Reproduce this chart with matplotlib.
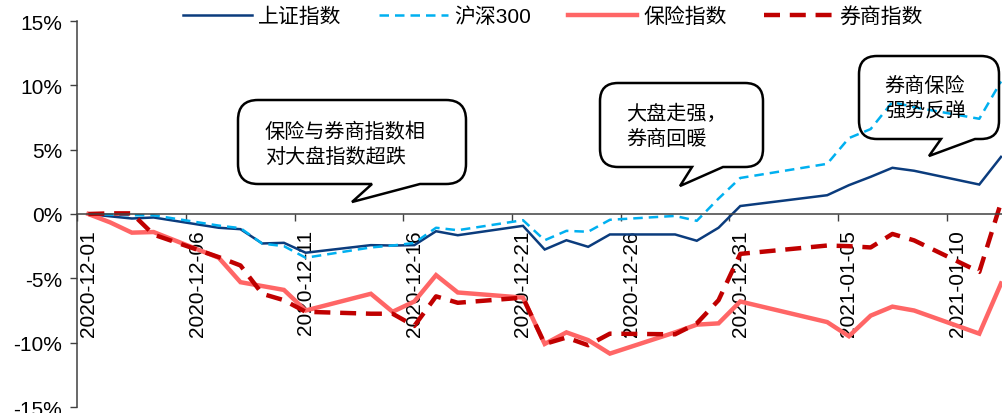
import numpy as np
import pandas as pd
import matplotlib
matplotlib.use('Agg')
import matplotlib.pyplot as plt
from matplotlib.path import Path
from matplotlib.patches import PathPatch
from matplotlib.ticker import FixedLocator, NullFormatter, FixedFormatter, FuncFormatter

plt.rcParams['font.family'] = ['Liberation Sans', 'Noto Sans CJK SC']
plt.rcParams['axes.unicode_minus'] = False

# trading days and cumulative return (%) of each index since 2020-12-01
dates = ['2020-12-01', '2020-12-02', '2020-12-03', '2020-12-04', '2020-12-07',
         '2020-12-08', '2020-12-09', '2020-12-10', '2020-12-11', '2020-12-14',
         '2020-12-15', '2020-12-16', '2020-12-17', '2020-12-18', '2020-12-21',
         '2020-12-22', '2020-12-23', '2020-12-24', '2020-12-25', '2020-12-28',
         '2020-12-29', '2020-12-30', '2020-12-31', '2021-01-04', '2021-01-05',
         '2021-01-06', '2021-01-07', '2021-01-08', '2021-01-11', '2021-01-12']

sh_index = [0, -0.18, -0.35, -0.27, -1.07, -1.18, -2.29, -2.24, -3.01, -2.42,
            -2.45, -2.42, -1.34, -1.65, -0.92, -2.76, -2.04, -2.55, -1.59, -1.59,
            -2.08, -1.07, 0.62, 1.46, 2.24, 2.89, 3.59, 3.36, 2.29, 4.44]
hs300 = [0, -0.05, -0.1, -0.1, -0.9, -1.1, -2.3, -2.5, -3.4, -2.6,
         -2.45, -2.25, -1.07, -1.26, -0.48, -2.04, -1.31, -1.38, -0.45, -0.15,
         -0.53, 1.2, 2.8, 3.9, 5.9, 6.6, 8.7, 8.3, 7.4, 10.3]
insurance = [0, -0.65, -1.45, -1.4, -3.4, -5.3, -5.6, -5.9, -7.5, -6.2,
             -7.6, -6.8, -4.75, -6.1, -6.5, -10.1, -9.2, -9.8, -10.85, -9.2,
             -8.6, -8.5, -6.8, -8.4, -9.5, -7.9, -7.2, -7.5, -9.3, -5.4]
brokerage = [0, 0.05, 0.05, -1.6, -3.35, -4.0, -6.2, -6.7, -7.6, -7.75,
             -7.75, -8.7, -6.4, -6.9, -6.5, -10.1, -9.6, -10.2, -9.3, -9.35,
             -8.5, -6.7, -3.1, -2.45, -2.5, -2.6, -1.55, -2.05, -4.5, 0.9]

series_names = ['上证指数', '沪深300', '保险指数', '券商指数']
notes = [('保险与券商指数相\n对大盘指数超跌', 'left'),
         ('大盘走强，\n券商回暖', 'left'),
         ('券商保险\n强势反弹', 'center')]

start = pd.Timestamp(dates[0])
days = (pd.to_datetime(dates) - start).days.values
label_days = np.arange(0, 41, 5)
label_text = [(start + pd.Timedelta(days=int(d))).strftime('%Y-%m-%d') for d in label_days]

W, H = 1003, 414
fig = plt.figure(figsize=(W / 100, H / 100), dpi=100)
ax = fig.add_axes([77.5 / W, 1 - 408 / H, 1 - 77.5 / W, 386 / H])

styles = [dict(color='#0B3C7D', lw=1.8, ls='-'),
          dict(color='#00B0F0', lw=1.8, ls=(0, (3.8, 2.4))),
          dict(color='#FF6666', lw=3.2, ls='-'),
          dict(color='#C00000', lw=3.2, ls=(0, (3.6, 2.2)))]
handles = []
for vals, name, st in zip([sh_index, hs300, insurance, brokerage], series_names, styles):
    h, = ax.plot(days, vals, label=name, solid_joinstyle='miter', **st)
    handles.append(h)

ax.set_xlim(-0.5, -0.5 + (W - 77.5) / 21.73)
ax.set_ylim(-15, 15)
ax.yaxis.set_major_locator(FixedLocator(np.arange(-15, 16, 5)))
ax.yaxis.set_major_formatter(FuncFormatter(lambda v, p: f'{v:.0f}%'))

# ticks sit on the day boundaries, labels in the middle of the day slot
ax.xaxis.set_major_locator(FixedLocator(label_days - 0.5))
ax.xaxis.set_major_formatter(NullFormatter())
ax.xaxis.set_minor_locator(FixedLocator(label_days))
ax.xaxis.set_minor_formatter(FixedFormatter(label_text))
ax.tick_params(axis='x', which='minor', length=0, pad=11, labelsize=15, labelrotation=90)
ax.tick_params(axis='x', which='major', length=5, width=1, direction='out', color='#404040')
ax.tick_params(axis='y', length=5, width=1, direction='out', pad=6, labelsize=15, color='#404040')

ax.spines['bottom'].set_position(('data', 0))
for s in ['top', 'right']:
    ax.spines[s].set_visible(False)
for s in ['left', 'bottom']:
    ax.spines[s].set_color('#404040')
    ax.spines[s].set_linewidth(1.1)
ax.patch.set_alpha(0)

fig.legend(handles, series_names, loc='center', bbox_to_anchor=(553 / W, 1 - 17 / H),
           ncol=4, frameon=False, fontsize=15, handlelength=3.3, handletextpad=0.3,
           columnspacing=1.8, borderaxespad=0)

# speech bubbles drawn in pixel coordinates on a transparent overlay
ov = fig.add_axes([0, 0, 1, 1], zorder=5)
ov.set_xlim(0, W)
ov.set_ylim(H, 0)
ov.axis('off')
ov.patch.set_alpha(0)


def bubble(x0, y0, x1, y1, r, tb0, tb1, tip):
    verts = [(x0 + r, y0), (x1 - r, y0), (x1, y0), (x1, y0 + r), (x1, y1 - r),
             (x1, y1), (x1 - r, y1), (tb1, y1), tip, (tb0, y1), (x0 + r, y1),
             (x0, y1), (x0, y1 - r), (x0, y0 + r), (x0, y0), (x0 + r, y0), (x0 + r, y0)]
    codes = [Path.MOVETO, Path.LINETO, Path.CURVE3, Path.CURVE3, Path.LINETO,
             Path.CURVE3, Path.CURVE3, Path.LINETO, Path.LINETO, Path.LINETO,
             Path.LINETO, Path.CURVE3, Path.CURVE3, Path.LINETO, Path.CURVE3,
             Path.CURVE3, Path.CLOSEPOLY]
    ov.add_patch(PathPatch(Path(verts, codes), facecolor='none', edgecolor='black',
                           lw=1.8, joinstyle='miter'))


bubble(238, 101, 466, 185, 20, 372, 420, (352, 203))
bubble(600, 84, 763, 168, 18, 692, 723, (680, 187))
bubble(859, 57, 999, 140, 18, 941, 975, (929, 157))

text_pos = [(265, 145), (626, 127), (925, 99)]
for (txt, ha), (tx, ty) in zip(notes, text_pos):
    ov.text(tx, ty, txt, ha=ha, va='center', fontsize=14.5, linespacing=1.3,
            family=['Noto Sans CJK SC'])

fig.savefig('out.png', dpi=100)
